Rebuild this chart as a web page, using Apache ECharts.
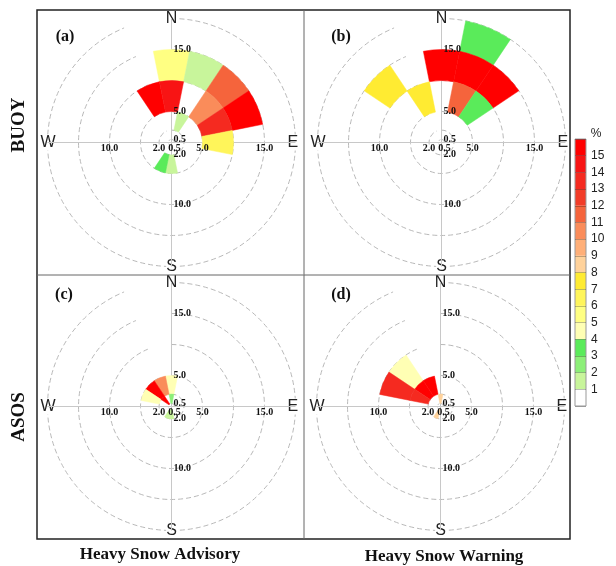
<!DOCTYPE html>
<html>
<head>
<meta charset="utf-8">
<script src="https://cdn.jsdelivr.net/npm/echarts@6/dist/echarts.min.js"></script>
<style>
  html, body { margin: 0; padding: 0; background: #fff; }
  #chart { width: 616px; height: 566px; }
</style>
</head>
<body>
<div id="chart"></div>
<script>
// 16 wind directions, clockwise from north
var directions = ['N', 'NNE', 'NE', 'ENE', 'E', 'ESE', 'SE', 'SSE', 'S', 'SSW', 'SW', 'WSW', 'W', 'WNW', 'NW', 'NNW'];
// wind speed rings (m/s), the last one is the outer circle
var speedRings = [0.5, 2, 5, 10, 15, 20];
// colour classes of frequency (%), lowest first
var pctLabels = [1, 2, 3, 4, 5, 6, 7, 8, 9, 10, 11, 12, 13, 14, 15];
var pctColors = ['#ffffff', '#c8f59b', '#8cef78', '#5aeb5a', '#ffffb4', '#ffff82', '#fff55a', '#ffeb32',
                 '#ffd29b', '#ffaf78', '#fa8c5a', '#f5643c', '#f23c28', '#f52a20', '#f81414', '#ff0000'];

// [direction, speed from, speed to, frequency %]
var buoyAdvisory = [
    ['N', 10, 15, 5.5], ['NNE', 10, 15, 1.5], ['NE', 10, 15, 11.5], ['ENE', 10, 15, 16],
    ['NNW', 5, 10, 16], ['N', 5, 10, 14.5], ['NE', 5, 10, 10.5], ['ENE', 5, 10, 13.5], ['E', 5, 10, 6.5],
    ['NNE', 2, 5, 1.5], ['S', 2, 5, 1.5], ['SSW', 2, 5, 3.5]
];
var buoyWarning = [
    ['NNE', 15, 20, 3.5],
    ['NW', 10, 15, 7.5], ['N', 10, 15, 16], ['NNE', 10, 15, 16], ['NE', 10, 15, 16],
    ['NNW', 5, 10, 7.5], ['NNE', 5, 10, 11.5], ['NE', 5, 10, 3.5]
];
var asosAdvisory = [
    ['N', 2, 5, 4.5], ['NNW', 2, 5, 10.5], ['NW', 2, 5, 16], ['WNW', 2, 5, 4.5],
    ['NW', 0.5, 2, 16], ['N', 0.5, 2, 2.5], ['S', 0.5, 2, 1.5], ['SSW', 0.5, 2, 1.5]
];
var asosWarning = [
    ['NW', 5, 10, 4.5], ['WNW', 5, 10, 13.5],
    ['NNW', 2, 5, 16], ['NW', 2, 5, 16], ['WNW', 2, 5, 13.5],
    ['N', 0.5, 2, 8.5], ['SSW', 0.5, 2, 8.5]
];

var R = 124;
var panels = [
    {cells: buoyAdvisory, center: [171.5, 142.5], tag: '(a)', tagPos: [65, 37]},
    {cells: buoyWarning, center: [441.5, 142.5], tag: '(b)', tagPos: [341, 37]},
    {cells: asosAdvisory, center: [171.5, 406.5], tag: '(c)', tagPos: [64, 295]},
    {cells: asosWarning, center: [440.5, 406.5], tag: '(d)', tagPos: [341, 295]}
];
// which ring labels sit on which compass arm
var labelArms = [
    {angle: 0, values: [0.5, 5, 15], margin: -1, align: 'center', valign: 'top'},
    {angle: 90, values: [0.5, 5, 15], margin: -2, align: 'left', valign: 'middle'},
    {angle: 180, values: [2, 10], margin: 1, align: 'center', valign: 'top'},
    {angle: 270, values: [2, 10], margin: 2, align: 'left', valign: 'middle'}
];

var gridGray = '#b9b9b9';
var serif = "'Liberation Serif', 'DejaVu Serif', serif";
var sans = "'Liberation Sans', Arial, sans-serif";

function renderCell(params, api) {
    var cs = params.coordSys;
    var dir = api.value(0);
    var pIn = api.coord([api.value(1), dir]);
    var pOut = api.coord([api.value(2), dir]);
    var r0 = Math.hypot(pIn[0] - cs.cx, pIn[1] - cs.cy);
    var r = Math.hypot(pOut[0] - cs.cx, pOut[1] - cs.cy);
    var mid = Math.atan2(pOut[1] - cs.cy, pOut[0] - cs.cx);
    var half = api.size([0, 1], [api.value(1), dir])[1] / 2;
    var color = api.visual('color');
    return {
        type: 'sector',
        shape: {cx: cs.cx, cy: cs.cy, r0: r0, r: r, startAngle: mid - half, endAngle: mid + half},
        style: {fill: color, stroke: color, lineWidth: 0.5}
    };
}

var polar = [], angleAxis = [], radiusAxis = [], series = [];
panels.forEach(function (p) {
    var main = polar.length;
    polar.push({center: p.center, radius: R});
    angleAxis.push({
        polarIndex: main,
        type: 'category',
        data: directions,
        startAngle: 90,
        boundaryGap: false,
        axisLine: {show: false},
        axisTick: {show: false, interval: 3},
        splitLine: {show: true, interval: 3, lineStyle: {color: '#c8c8c8', width: 1}},
        axisLabel: {
            interval: 3, margin: -8, fontFamily: sans, fontSize: 16, color: '#222',
            backgroundColor: '#fff'
        }
    });
    radiusAxis.push({
        polarIndex: main,
        type: 'value', min: 0, max: 20,
        axisLine: {show: false},
        axisTick: {show: false, customValues: speedRings},
        axisLabel: {show: false},
        splitLine: {show: true, lineStyle: {color: gridGray, width: 1, type: [5, 3]}}
    });
    series.push({
        type: 'custom',
        coordinateSystem: 'polar',
        polarIndex: main,
        renderItem: renderCell,
        encode: {angle: 0, radius: [1, 2]},
        data: p.cells.map(function (c) {
            return [directions.indexOf(c[0]), c[1], c[2], c[3]];
        })
    });
    labelArms.forEach(function (arm) {
        var k = polar.length;
        polar.push({center: p.center, radius: R});
        angleAxis.push({polarIndex: k, type: 'value', min: 0, max: 360, startAngle: arm.angle, show: false});
        radiusAxis.push({
            polarIndex: k,
            type: 'value', min: 0, max: 20, interval: 0.5,
            z: 10,
            axisLine: {show: false},
            axisTick: {show: false},
            splitLine: {show: false},
            axisLabel: {
                margin: arm.margin, align: arm.align, verticalAlign: arm.valign,
                fontFamily: serif, fontWeight: 'bold', fontSize: 10, color: '#111',
                formatter: function (v) {
                    return arm.values.indexOf(v) >= 0 ? v.toFixed(1) : '';
                }
            }
        });
    });
});

var pieces = pctColors.map(function (c, i) {
    if (i === 0) return {lt: 1, color: c};
    if (i === pctColors.length - 1) return {gte: i, color: c};
    return {gte: i, lt: i + 1, color: c};
});

var graphic = [
    {type: 'rect', z: 20, shape: {x: 37, y: 10, width: 533, height: 529},
        style: {fill: 'none', stroke: '#222', lineWidth: 1.5}},
    {type: 'line', z: 20, shape: {x1: 304, y1: 10, x2: 304, y2: 539}, style: {stroke: '#666', lineWidth: 1}},
    {type: 'line', z: 20, shape: {x1: 37, y1: 275, x2: 570, y2: 275}, style: {stroke: '#666', lineWidth: 1}},
    {type: 'text', z: 20, x: 19, y: 125, rotation: Math.PI / 2,
        style: {text: 'BUOY', font: 'bold 19px ' + serif, fill: '#111', align: 'center', verticalAlign: 'middle'}},
    {type: 'text', z: 20, x: 19, y: 417, rotation: Math.PI / 2,
        style: {text: 'ASOS', font: 'bold 19px ' + serif, fill: '#111', align: 'center', verticalAlign: 'middle'}},
    {type: 'text', z: 20, x: 160, y: 555,
        style: {text: 'Heavy Snow Advisory', font: 'bold 17px ' + serif, fill: '#111', align: 'center', verticalAlign: 'middle'}},
    {type: 'text', z: 20, x: 444, y: 557,
        style: {text: 'Heavy Snow Warning', font: 'bold 17px ' + serif, fill: '#111', align: 'center', verticalAlign: 'middle'}}
];
panels.forEach(function (p) {
    graphic.push({type: 'text', z: 20, x: p.tagPos[0], y: p.tagPos[1],
        style: {text: p.tag, font: 'bold 16px ' + serif, fill: '#111', align: 'center', verticalAlign: 'middle'}});
});

var chart = echarts.init(document.getElementById('chart'), null, {renderer: 'canvas'});
chart.setOption({
    backgroundColor: '#fff',
    animation: false,
    polar: polar,
    angleAxis: angleAxis,
    radiusAxis: radiusAxis,
    visualMap: {
        type: 'piecewise',
        dimension: 3,
        seriesIndex: [0, 1, 2, 3],
        pieces: pieces,
        orient: 'vertical',
        left: 575, top: 139,
        padding: 0,
        itemWidth: 11, itemHeight: 16.69, itemGap: 0,
        itemSymbol: 'rect',
        showLabel: false,
        selectedMode: false
    },
    grid: {left: 575, top: 139, width: 11, height: 267, show: true, z: 10,
        borderColor: '#999', borderWidth: 1, backgroundColor: 'transparent'},
    xAxis: {type: 'value', show: false, min: 0, max: 1},
    yAxis: {
        type: 'value', min: 0, max: 16, interval: 1, position: 'right', z: 10,
        name: '%', nameGap: -1,
        nameTextStyle: {fontFamily: sans, fontSize: 12, color: '#222', padding: [0, 0, 0, 42]},
        axisLine: {show: false}, axisTick: {show: false},
        splitLine: {show: true, lineStyle: {color: 'rgba(0,0,0,0.25)', width: 1}},
        axisLabel: {
            margin: 5, fontFamily: sans, fontSize: 12, color: '#222',
            formatter: function (v) { return pctLabels.indexOf(v) >= 0 ? String(v) : ''; }
        }
    },
    graphic: graphic,
    series: series
});
</script>
</body>
</html>
